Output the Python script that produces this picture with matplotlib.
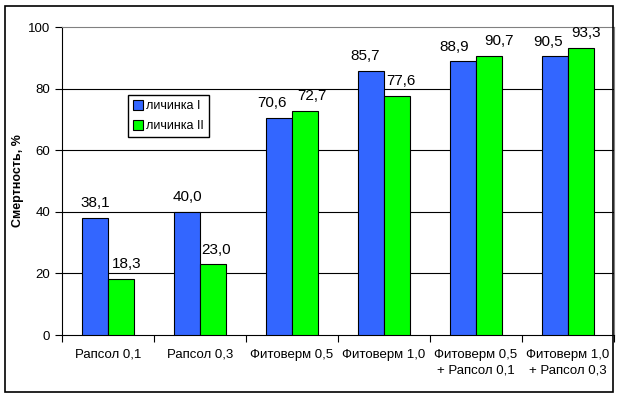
import numpy as np
import matplotlib.pyplot as plt
from matplotlib.patches import Rectangle

plt.rcParams['font.family'] = ['Liberation Sans', 'DejaVu Sans']

# data
categories = ["Рапсол 0,1", "Рапсол 0,3", "Фитоверм 0,5", "Фитоверм 1,0",
              "Фитоверм 0,5\n+ Рапсол 0,1", "Фитоверм 1,0\n+ Рапсол 0,3"]
larva_1 = [38.1, 40.0, 70.6, 85.7, 88.9, 90.5]
larva_2 = [18.3, 23.0, 72.7, 77.6, 90.7, 93.3]
series_names = ["личинка I", "личинка II"]
y_ticks = [0, 20, 40, 60, 80, 100]

# horizontal nudges of the value labels (points), as Excel placed them
nudge_1 = [0, 0, -5, -4.5, -6.5, -5]
nudge_2 = [4.5, 2.5, 5, 3, 7, 3.5]

fig = plt.figure(figsize=(6.17, 3.98), dpi=100)
ax = fig.add_axes([62 / 617, 63 / 398, 552 / 617, 308 / 398])

x = np.arange(len(categories))
w = 0.28
b1 = ax.bar(x - w / 2, larva_1, w, color="#3366FF", edgecolor="black", linewidth=0.8,
            label=series_names[0], zorder=3)
b2 = ax.bar(x + w / 2, larva_2, w, color="#00FF00", edgecolor="black", linewidth=0.8,
            label=series_names[1], zorder=3)

for bars, vals, nudges in [(b1, larva_1, nudge_1), (b2, larva_2, nudge_2)]:
    for bar, v, dx in zip(bars, vals, nudges):
        ax.annotate(f"{v:.1f}".replace(".", ","), (bar.get_x() + bar.get_width() / 2, v),
                    xytext=(dx, 5.5), textcoords="offset points",
                    ha="center", va="bottom", fontsize=11)

ax.set_xlim(-0.5, len(categories) - 0.5)
ax.set_ylim(0, 100)
ax.set_yticks(y_ticks)
ax.tick_params(axis="y", labelsize=9.5, length=5, width=0.8, direction="out")
for yv in y_ticks[1:-1]:
    ax.axhline(yv, color="black", linewidth=0.8, zorder=1)

# category ticks on the boundaries, labels centred
ax.set_xticks(np.arange(len(categories) + 1) - 0.5)
ax.set_xticklabels([])
ax.set_xticks(x, minor=True)
ax.set_xticklabels(categories, minor=True, fontsize=9.5, linespacing=1.45)
ax.tick_params(axis="x", which="major", length=5, width=0.8, direction="out")
ax.tick_params(axis="x", which="minor", length=0, pad=10)

ax.spines["top"].set_color("#808080")
ax.spines["right"].set_color("#808080")
ax.spines["left"].set_linewidth(0.8)
ax.spines["bottom"].set_linewidth(0.8)

ax.set_ylabel("Смертность, %", fontsize=9, fontweight="bold", labelpad=3)

fig.legend(loc="upper left", bbox_to_anchor=(128 / 617, 1 - 95 / 398), fontsize=9,
           fancybox=False, edgecolor="black", framealpha=1, handlelength=0.8,
           handleheight=0.8, handletextpad=0.25, borderpad=0.4, labelspacing=0.65,
           borderaxespad=0)

fig.patches.append(Rectangle((5 / 617, 6 / 398), 608 / 617, 386 / 398, transform=fig.transFigure,
                             fill=False, edgecolor="black", linewidth=1.2))

fig.savefig("out.png", dpi=100)
